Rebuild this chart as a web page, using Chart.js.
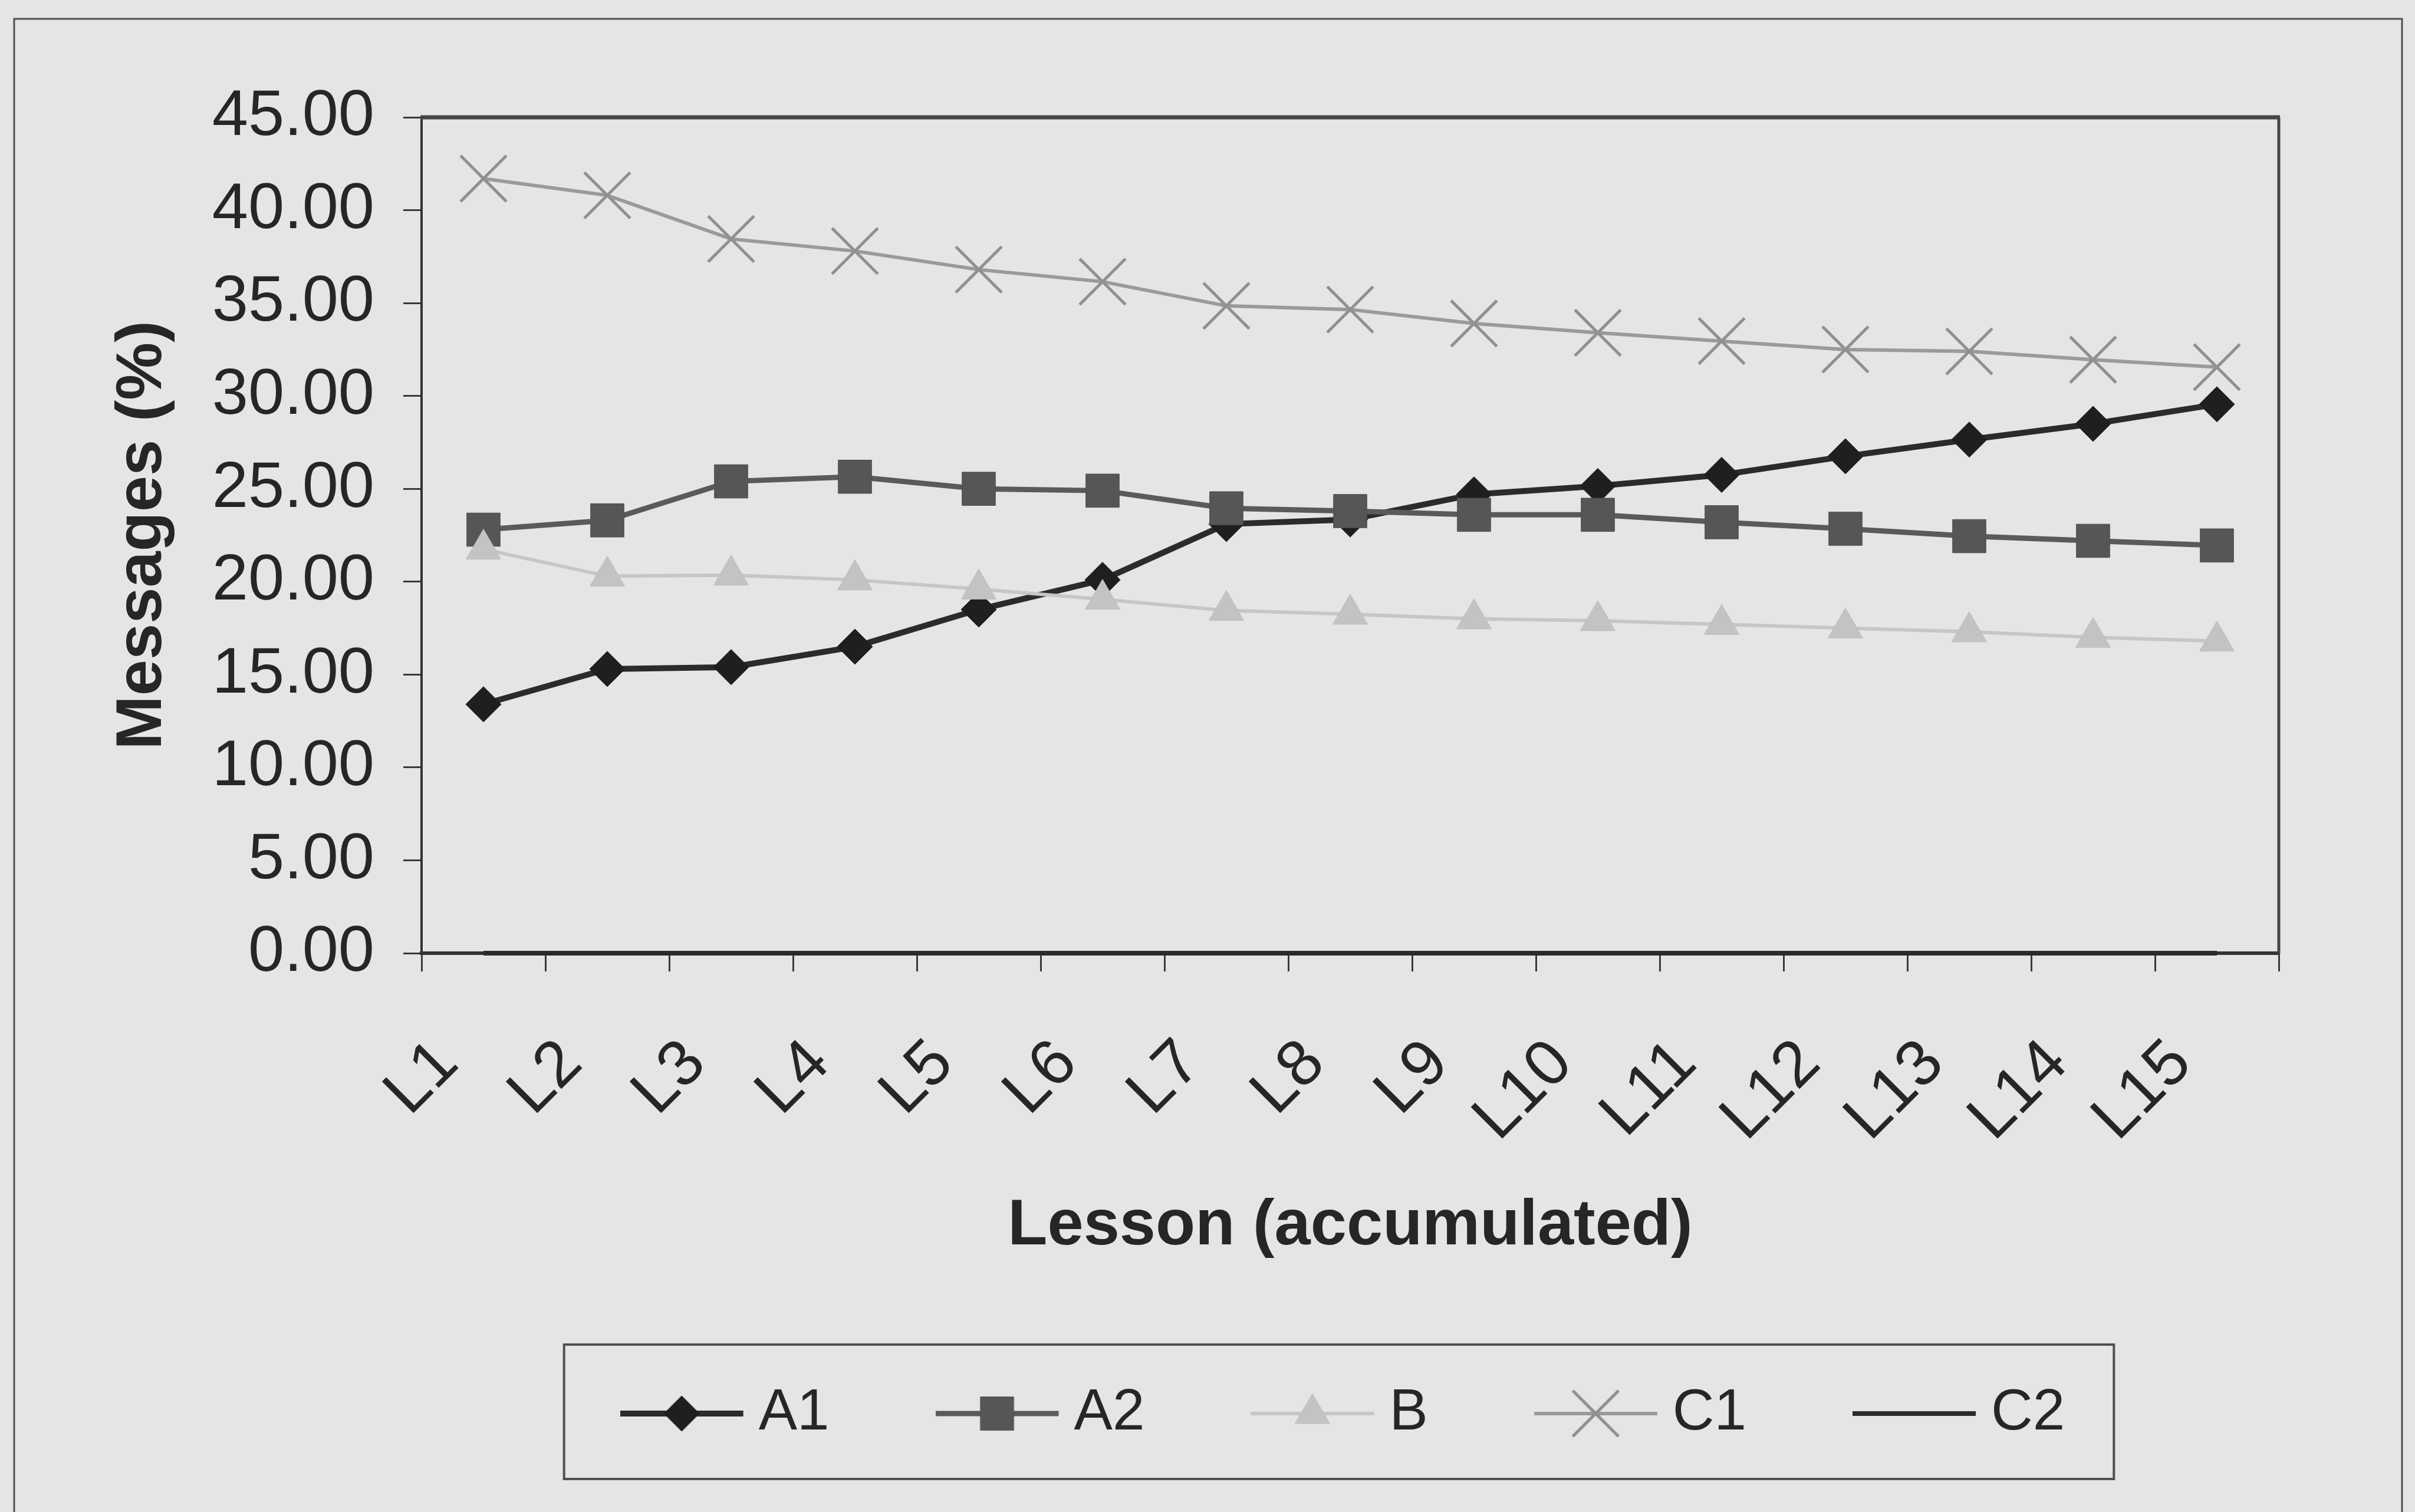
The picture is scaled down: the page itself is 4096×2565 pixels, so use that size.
<!DOCTYPE html>
<html>
<head>
<meta charset="utf-8">
<title>Messages per lesson</title>
<script src="https://cdn.jsdelivr.net/npm/chart.js"></script>
<style>
  html, body { margin: 0; padding: 0; background: #e5e5e5; }
  #wrap { width: 4096px; height: 2565px; position: relative; }
  canvas { display: block; }
</style>
</head>
<body>
<div id="wrap"><canvas id="chart" width="4096" height="2565"></canvas></div>
<script>
// Lesson categories (accumulated)
const lessons = ['L1', 'L2', 'L3', 'L4', 'L5', 'L6', 'L7', 'L8', 'L9', 'L10', 'L11', 'L12', 'L13', 'L14', 'L15'];

// Share of messages per level, in %
const seriesA1 = [13.4, 15.3, 15.4, 16.5, 18.5, 20.1, 23.1, 23.35, 24.7, 25.15, 25.75, 26.75, 27.65, 28.5, 29.55];
const seriesA2 = [22.8, 23.3, 25.4, 25.65, 25.0, 24.9, 23.95, 23.8, 23.6, 23.6, 23.2, 22.85, 22.45, 22.2, 21.95];
const seriesB  = [21.75, 20.3, 20.35, 20.1, 19.6, 19.05, 18.45, 18.25, 18.0, 17.9, 17.7, 17.5, 17.3, 17.0, 16.8];
const seriesC1 = [41.7, 40.8, 38.45, 37.8, 36.8, 36.15, 34.85, 34.65, 33.9, 33.4, 32.95, 32.5, 32.4, 31.95, 31.55];
const seriesC2 = [0, 0, 0, 0, 0, 0, 0, 0, 0, 0, 0, 0, 0, 0, 0];

const seriesNames = ['A1', 'A2', 'B', 'C1', 'C2'];

// Value axis
const yMin = 0;
const yMax = 45;
const yStep = 5;

const FONT = "'Liberation Sans', Arial, Helvetica, sans-serif";
const INK = '#262626';
const BG = '#e5e5e5';

Chart.defaults.font.family = FONT;
Chart.defaults.color = INK;

const styles = [
  { line: '#2b2b2b', lineWidth: 10, marker: 'rectRot',  radius: 30, fill: '#1f1f1f', stroke: '#1f1f1f', markerWidth: 1 },
  { line: '#5a5a5a', lineWidth: 9,  marker: 'rect',     radius: 40, fill: '#565656', stroke: '#4e4e4e', markerWidth: 1 },
  { line: '#c6c6c6', lineWidth: 6,  marker: 'triangle', radius: 34, fill: '#c3c3c3', stroke: '#bdbdbd', markerWidth: 1 },
  { line: '#9a9a9a', lineWidth: 6,  marker: 'crossRot', radius: 55, fill: '#909090', stroke: '#909090', markerWidth: 5 },
  { line: '#2a2a2a', lineWidth: 8,  marker: false,      radius: 0,  fill: '#2a2a2a', stroke: '#2a2a2a', markerWidth: 1 }
];

// Legend swatch: a short line with the series marker in its middle
function makeSwatch(s) {
  const c = document.createElement('canvas');
  c.width = 212; c.height = 96;
  const g = c.getContext('2d');
  const cy = 48, cx = 104.5, r = s.radius;
  g.strokeStyle = s.line; g.lineWidth = s.lineWidth;
  g.beginPath(); g.moveTo(0, cy); g.lineTo(209, cy); g.stroke();
  g.fillStyle = s.fill; g.strokeStyle = s.stroke; g.lineWidth = s.markerWidth;
  g.beginPath();
  if (s.marker === 'rectRot') {
    g.moveTo(cx - r, cy); g.lineTo(cx, cy - r); g.lineTo(cx + r, cy); g.lineTo(cx, cy + r); g.closePath();
    g.fill(); g.stroke();
  } else if (s.marker === 'rect') {
    const h = r * Math.SQRT1_2;
    g.rect(cx - h, cy - h, 2 * h, 2 * h); g.fill(); g.stroke();
  } else if (s.marker === 'triangle') {
    let a = 0;
    g.moveTo(cx + Math.sin(a) * r, cy - Math.cos(a) * r);
    a += 2 * Math.PI / 3; g.lineTo(cx + Math.sin(a) * r, cy - Math.cos(a) * r);
    a += 2 * Math.PI / 3; g.lineTo(cx + Math.sin(a) * r, cy - Math.cos(a) * r);
    g.closePath(); g.fill(); g.stroke();
  } else if (s.marker === 'crossRot') {
    const o = r * Math.SQRT1_2;
    g.moveTo(cx - o, cy - o); g.lineTo(cx + o, cy + o);
    g.moveTo(cx + o, cy - o); g.lineTo(cx - o, cy + o);
    g.stroke();
  }
  return c;
}
const swatches = styles.map(makeSwatch);

function lineDataset(label, data, s, order) {
  return {
    label: label,
    data: data,
    order: order,
    borderColor: s.line,
    borderWidth: s.lineWidth,
    backgroundColor: s.fill,
    tension: 0,
    fill: false,
    pointStyle: s.marker,
    pointRadius: s.marker ? s.radius : 0,
    pointHoverRadius: s.marker ? s.radius : 0,
    pointBackgroundColor: s.fill,
    pointBorderColor: s.stroke,
    pointBorderWidth: s.markerWidth,
    clip: false
  };
}

// Page background, outer frame
const framePlugin = {
  id: 'frame',
  beforeDraw(chart) {
    const ctx = chart.ctx;
    ctx.save();
    ctx.fillStyle = BG;
    ctx.fillRect(0, 0, chart.width, chart.height);
    ctx.strokeStyle = '#505050';
    ctx.lineWidth = 3;
    ctx.strokeRect(24, 32, 4050, 2620);
    ctx.restore();
  }
};

// Top and right edges of the plot area
const plotBorderPlugin = {
  id: 'plotBorder',
  beforeDatasetsDraw(chart) {
    const a = chart.chartArea, ctx = chart.ctx;
    ctx.save();
    ctx.strokeStyle = '#444444';
    ctx.lineWidth = 7;
    ctx.beginPath(); ctx.moveTo(a.left - 2, a.top); ctx.lineTo(a.right + 2, a.top); ctx.stroke();
    ctx.lineWidth = 5;
    ctx.beginPath(); ctx.moveTo(a.right, a.top); ctx.lineTo(a.right, a.bottom); ctx.stroke();
    ctx.restore();
  }
};

// Box around the legend entries
const legendBoxPlugin = {
  id: 'legendBox',
  afterDraw(chart) {
    const lg = chart.legend;
    if (!lg || !lg.legendHitBoxes || !lg.legendHitBoxes.length) return;
    const hb = lg.legendHitBoxes;
    const first = hb[0], last = hb[hb.length - 1];
    const mid = first.top + 49;
    const left = first.left - 26 - 95;
    const right = last.left + last.width + 83;
    const ctx = chart.ctx;
    ctx.save();
    ctx.strokeStyle = '#505050';
    ctx.lineWidth = 4;
    ctx.strokeRect(left, mid - 117, right - left, 228);
    ctx.restore();
  }
};

const datasets = [seriesA1, seriesA2, seriesB, seriesC1, seriesC2].map(
  (d, i) => lineDataset(seriesNames[i], d, styles[i], 5 - i)
);

new Chart(document.getElementById('chart'), {
  type: 'line',
  data: { labels: lessons, datasets: datasets },
  plugins: [framePlugin, plotBorderPlugin, legendBoxPlugin],
  options: {
    responsive: false,
    animation: false,
    devicePixelRatio: 1,
    layout: { padding: { left: 60, right: 231, top: 199, bottom: 108 } },
    interaction: { mode: null },
    plugins: {
      tooltip: { enabled: false },
      legend: {
        display: true,
        position: 'bottom',
        fullSize: false,
        align: 'center',
        labels: {
          usePointStyle: true,
          pointStyleWidth: 160,
          padding: 206,
          color: INK,
          font: { size: 98, family: FONT },
          sort: (a, b) => a.datasetIndex - b.datasetIndex,
          generateLabels(chart) {
            const items = Chart.defaults.plugins.legend.labels.generateLabels(chart);
            items.forEach(it => { it.pointStyle = swatches[it.datasetIndex]; });
            return items;
          }
        }
      }
    },
    scales: {
      x: {
        type: 'category',
        offset: true,
        afterFit(scale) { scale.height = 526; },
        border: { display: true, color: '#333333', width: 6 },
        grid: {
          display: true, offset: true, drawOnChartArea: false, drawTicks: true,
          tickLength: 31, tickWidth: 3, tickColor: '#3a3a3a', color: '#3a3a3a', lineWidth: 3
        },
        ticks: {
          autoSkip: false, minRotation: 45, maxRotation: 45,
          padding: 92, labelOffset: -60,
          color: INK, font: { size: 110, family: FONT }
        },
        title: {
          display: true, text: 'Lesson (accumulated)', color: INK,
          font: { size: 110, weight: 'bold', family: FONT, lineHeight: 1 },
          padding: { top: 0, bottom: 7 }
        }
      },
      y: {
        type: 'linear',
        min: yMin, max: yMax,
        afterFit(scale) { scale.width = 655; },
        border: { display: true, color: '#333333', width: 4 },
        grid: {
          display: true, drawOnChartArea: false, drawTicks: true,
          tickLength: 31, tickWidth: 3, tickColor: '#3a3a3a', color: '#3a3a3a', lineWidth: 3
        },
        ticks: {
          stepSize: yStep, padding: 49, color: INK,
          font: { size: 110, family: FONT },
          callback: v => Number(v).toFixed(2)
        },
        title: {
          display: true, text: 'Messages (%)', color: INK,
          font: { size: 110, weight: 'bold', family: FONT, lineHeight: 1 },
          padding: { top: 128, bottom: 0 }
        }
      }
    }
  }
});
</script>
</body>
</html>
